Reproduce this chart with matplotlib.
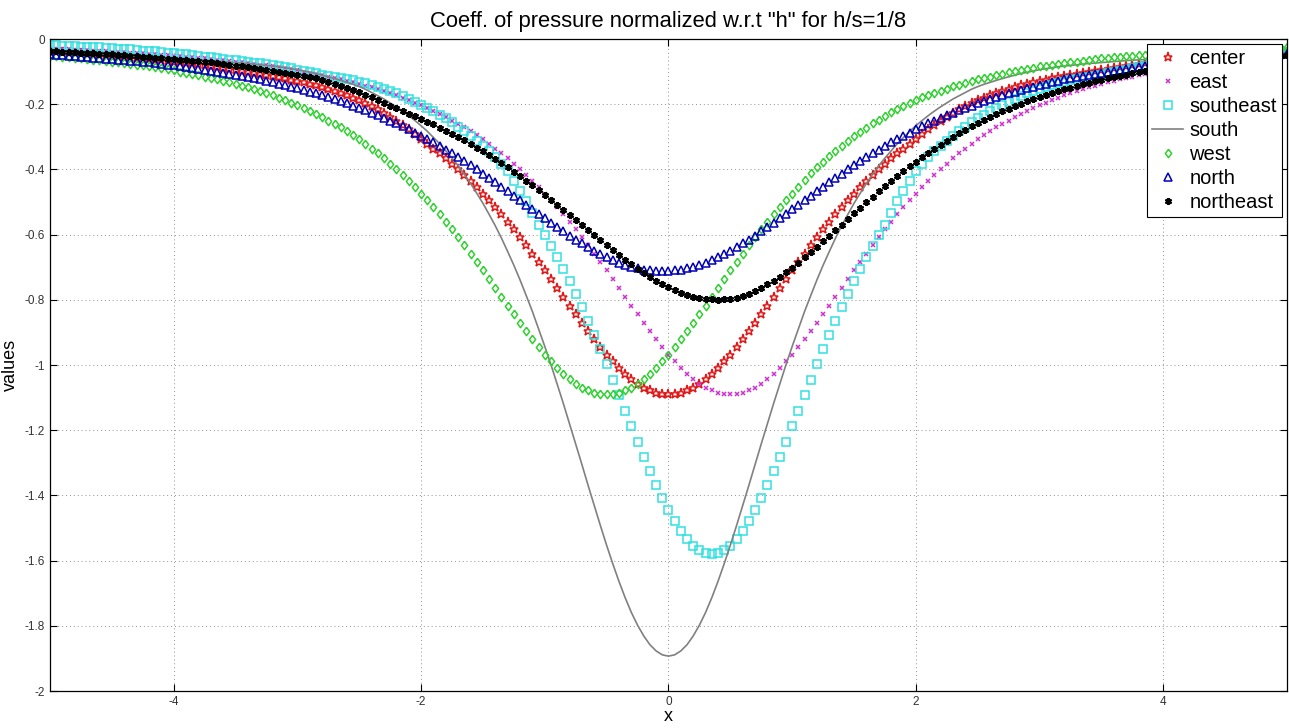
import numpy as np
import matplotlib
matplotlib.use("Agg")
import matplotlib.pyplot as plt

plt.rcParams['font.family'] = ['Liberation Sans', 'DejaVu Sans']
plt.rcParams['axes.unicode_minus'] = False

# x grid of the samples (step 0.05)
x = np.linspace(-5, 5, 201)

center = [
    -0.039, -0.040, -0.041, -0.042, -0.043, -0.044, -0.046, -0.047, -0.048, -0.050,
    -0.051, -0.053, -0.054, -0.056, -0.058, -0.059, -0.061, -0.063, -0.065, -0.067,
    -0.069, -0.071, -0.074, -0.075, -0.078, -0.080, -0.083, -0.086, -0.088, -0.091,
    -0.094, -0.097, -0.100, -0.104, -0.107, -0.111, -0.114, -0.117, -0.121, -0.125,
    -0.129, -0.133, -0.137, -0.142, -0.147, -0.153, -0.159, -0.166, -0.173, -0.180,
    -0.188, -0.196, -0.205, -0.215, -0.226, -0.238, -0.250, -0.263, -0.277, -0.292,
    -0.308, -0.322, -0.336, -0.351, -0.366, -0.382, -0.399, -0.416, -0.435, -0.454,
    -0.474, -0.494, -0.515, -0.538, -0.560, -0.584, -0.608, -0.633, -0.658, -0.684,
    -0.710, -0.737, -0.764, -0.791, -0.818, -0.844, -0.870, -0.896, -0.921, -0.945,
    -0.968, -0.989, -1.009, -1.027, -1.043, -1.057, -1.069, -1.078, -1.085, -1.089,
    -1.090,
    -1.089, -1.085, -1.078, -1.069, -1.057, -1.043, -1.027, -1.009, -0.989, -0.968,
    -0.945, -0.921, -0.896, -0.870, -0.844, -0.818, -0.791, -0.764, -0.737, -0.710,
    -0.684, -0.658, -0.633, -0.608, -0.584, -0.560, -0.538, -0.515, -0.494, -0.474,
    -0.454, -0.435, -0.416, -0.399, -0.382, -0.366, -0.351, -0.336, -0.322, -0.308,
    -0.292, -0.277, -0.263, -0.250, -0.238, -0.226, -0.215, -0.205, -0.196, -0.188,
    -0.180, -0.173, -0.166, -0.159, -0.153, -0.147, -0.142, -0.137, -0.133, -0.129,
    -0.125, -0.121, -0.117, -0.114, -0.111, -0.107, -0.104, -0.100, -0.097, -0.094,
    -0.091, -0.088, -0.086, -0.083, -0.080, -0.078, -0.075, -0.074, -0.071, -0.069,
    -0.067, -0.065, -0.063, -0.061, -0.059, -0.058, -0.056, -0.054, -0.053, -0.051,
    -0.050, -0.048, -0.047, -0.046, -0.044, -0.043, -0.042, -0.041, -0.040, -0.039,
]

east = [
    -0.030, -0.031, -0.031, -0.032, -0.033, -0.034, -0.035, -0.036, -0.037, -0.038,
    -0.039, -0.040, -0.041, -0.042, -0.043, -0.044, -0.046, -0.047, -0.048, -0.050,
    -0.051, -0.053, -0.054, -0.056, -0.058, -0.059, -0.061, -0.063, -0.065, -0.067,
    -0.069, -0.071, -0.074, -0.076, -0.079, -0.081, -0.084, -0.087, -0.090, -0.093,
    -0.096, -0.100, -0.103, -0.107, -0.111, -0.115, -0.119, -0.123, -0.128, -0.133,
    -0.138, -0.143, -0.148, -0.154, -0.160, -0.167, -0.173, -0.180, -0.188, -0.195,
    -0.203, -0.212, -0.220, -0.230, -0.239, -0.250, -0.260, -0.271, -0.283, -0.295,
    -0.308, -0.322, -0.336, -0.351, -0.366, -0.382, -0.399, -0.416, -0.435, -0.454,
    -0.474, -0.494, -0.515, -0.538, -0.560, -0.584, -0.608, -0.633, -0.658, -0.684,
    -0.710, -0.737, -0.764, -0.791, -0.818, -0.844, -0.870, -0.896, -0.921, -0.945,
    -0.968, -0.989, -1.009, -1.027, -1.043, -1.057, -1.069, -1.078, -1.085, -1.089,
    -1.090,
    -1.089, -1.085, -1.078, -1.069, -1.057, -1.043, -1.027, -1.009, -0.989, -0.968,
    -0.945, -0.921, -0.896, -0.870, -0.844, -0.818, -0.791, -0.764, -0.737, -0.710,
    -0.684, -0.658, -0.633, -0.608, -0.584, -0.560, -0.538, -0.515, -0.494, -0.474,
    -0.454, -0.435, -0.416, -0.399, -0.382, -0.366, -0.351, -0.336, -0.322, -0.308,
    -0.295, -0.283, -0.271, -0.260, -0.250, -0.239, -0.230, -0.220, -0.212, -0.203,
    -0.195, -0.188, -0.180, -0.173, -0.167, -0.160, -0.154, -0.148, -0.143, -0.138,
    -0.133, -0.128, -0.123, -0.119, -0.115, -0.111, -0.107, -0.103, -0.100, -0.096,
    -0.093, -0.090, -0.087, -0.084, -0.081, -0.079, -0.076, -0.074, -0.071, -0.069,
    -0.067, -0.065, -0.063, -0.061, -0.059, -0.058, -0.056, -0.054, -0.053, -0.051,
]

southeast = [
    -0.019, -0.019, -0.020, -0.021, -0.022, -0.023, -0.024, -0.025, -0.026, -0.027,
    -0.028, -0.030, -0.031, -0.032, -0.033, -0.036, -0.037, -0.038, -0.040, -0.042,
    -0.043, -0.046, -0.047, -0.050, -0.052, -0.054, -0.056,
    -0.059, -0.061, -0.063, -0.065, -0.068, -0.070, -0.073, -0.075, -0.078, -0.081,
    -0.084, -0.087, -0.090, -0.094, -0.098, -0.101,
    -0.105, -0.109, -0.112, -0.115, -0.119, -0.123, -0.127, -0.131, -0.135, -0.140,
    -0.146, -0.153, -0.160, -0.167, -0.175, -0.183, -0.192, -0.201, -0.211, -0.221,
    -0.232, -0.243, -0.256, -0.269, -0.282, -0.296, -0.312, -0.328, -0.345, -0.363,
    -0.383, -0.406, -0.434, -0.465, -0.498, -0.533,
    -0.571, -0.601, -0.634, -0.668, -0.704, -0.742, -0.781, -0.821, -0.864, -0.907,
    -0.952, -0.998, -1.045, -1.092, -1.140, -1.188, -1.235, -1.281, -1.326, -1.369,
    -1.409, -1.446, -1.480, -1.509, -1.534, -1.554, -1.568, -1.577,
    -1.580,
    -1.577, -1.568, -1.554, -1.534, -1.509, -1.480, -1.446, -1.409, -1.369, -1.326,
    -1.281, -1.235, -1.188, -1.140, -1.092, -1.045, -0.998, -0.952, -0.907, -0.864,
    -0.821, -0.781, -0.742, -0.704, -0.668, -0.634, -0.601, -0.571,
    -0.533, -0.498, -0.465, -0.434, -0.406, -0.383, -0.363, -0.345, -0.328, -0.312,
    -0.296, -0.282, -0.269, -0.256, -0.243, -0.232, -0.221, -0.211, -0.201, -0.192,
    -0.183, -0.175, -0.167, -0.160, -0.153, -0.146, -0.140, -0.135, -0.131, -0.127,
    -0.123, -0.119, -0.115, -0.112, -0.109, -0.105,
    -0.101, -0.098, -0.094, -0.090, -0.087, -0.084, -0.081, -0.078, -0.075, -0.073,
    -0.070, -0.068, -0.065, -0.063, -0.061, -0.059, -0.057, -0.055, -0.054, -0.052,
    -0.050, -0.049, -0.047, -0.046, -0.044, -0.043, -0.042, -0.041, -0.039,
]

south = [
    -0.042, -0.043, -0.043, -0.044, -0.045, -0.045, -0.046, -0.047, -0.048, -0.049,
    -0.050, -0.051, -0.052, -0.053, -0.054, -0.055, -0.056, -0.057, -0.058, -0.059,
    -0.060, -0.061, -0.062, -0.063, -0.064, -0.065, -0.066, -0.068, -0.069, -0.071,
    -0.072, -0.074, -0.075, -0.077, -0.079, -0.081, -0.083, -0.085, -0.088, -0.091,
    -0.094, -0.098, -0.102, -0.106, -0.111, -0.116, -0.121, -0.127, -0.133, -0.139,
    -0.146, -0.154, -0.164, -0.174, -0.184, -0.196, -0.208, -0.221, -0.235, -0.250,
    -0.266, -0.283, -0.302, -0.321, -0.343, -0.365, -0.389, -0.415, -0.443, -0.473,
    -0.504, -0.538, -0.573, -0.611, -0.652, -0.694, -0.739, -0.787, -0.836, -0.889,
    -0.943, -0.999, -1.058, -1.118, -1.180, -1.242, -1.305, -1.369, -1.431, -1.493,
    -1.553, -1.610, -1.664, -1.714, -1.759, -1.798, -1.831, -1.858, -1.877, -1.889,
    -1.893,
    -1.889, -1.877, -1.858, -1.831, -1.798, -1.759, -1.714, -1.664, -1.610, -1.553,
    -1.493, -1.431, -1.369, -1.305, -1.242, -1.180, -1.118, -1.058, -0.999, -0.943,
    -0.889, -0.836, -0.787, -0.739, -0.694, -0.652, -0.611, -0.573, -0.538, -0.504,
    -0.473, -0.443, -0.415, -0.389, -0.365, -0.343, -0.321, -0.302, -0.283, -0.266,
    -0.250, -0.235, -0.221, -0.208, -0.196, -0.184, -0.174, -0.164, -0.154, -0.146,
    -0.139, -0.133, -0.127, -0.121, -0.116, -0.111, -0.106, -0.102, -0.098, -0.094,
    -0.091, -0.088, -0.085, -0.083, -0.081, -0.079, -0.077, -0.075, -0.074, -0.072,
    -0.071, -0.069, -0.068, -0.066, -0.065, -0.064, -0.063, -0.062, -0.061, -0.060,
    -0.059, -0.058, -0.057, -0.056, -0.055, -0.054, -0.053, -0.052, -0.051, -0.050,
    -0.049, -0.048, -0.047, -0.046, -0.045, -0.045, -0.044, -0.043, -0.043, -0.042,
]

west = [
    -0.051, -0.053, -0.054, -0.056, -0.058, -0.059, -0.061, -0.063, -0.065, -0.067,
    -0.069, -0.071, -0.074, -0.076, -0.079, -0.081, -0.084, -0.087, -0.090, -0.093,
    -0.096, -0.100, -0.103, -0.107, -0.111, -0.115, -0.119, -0.123, -0.128, -0.133,
    -0.138, -0.143, -0.148, -0.154, -0.160, -0.167, -0.173, -0.180, -0.188, -0.195,
    -0.203, -0.212, -0.220, -0.230, -0.239, -0.250, -0.260, -0.271, -0.283, -0.295,
    -0.308, -0.322, -0.336, -0.351, -0.366, -0.382, -0.399, -0.416, -0.435, -0.454,
    -0.474, -0.494, -0.515, -0.538, -0.560, -0.584, -0.608, -0.633, -0.658, -0.684,
    -0.710, -0.737, -0.764, -0.791, -0.818, -0.844, -0.870, -0.896, -0.921, -0.945,
    -0.968, -0.989, -1.009, -1.027, -1.043, -1.057, -1.069, -1.078, -1.085, -1.089,
    -1.090,
    -1.089, -1.085, -1.078, -1.069, -1.057, -1.043, -1.027, -1.009, -0.989, -0.968,
    -0.945, -0.921, -0.896, -0.870, -0.844, -0.818, -0.791, -0.764, -0.737, -0.710,
    -0.684, -0.658, -0.633, -0.608, -0.584, -0.560, -0.538, -0.515, -0.494, -0.474,
    -0.453, -0.432, -0.412, -0.394, -0.376, -0.359, -0.344, -0.328, -0.313, -0.299,
    -0.285, -0.272, -0.259, -0.247, -0.236, -0.225, -0.215, -0.205, -0.196, -0.187,
    -0.179, -0.172, -0.165, -0.158, -0.152, -0.145, -0.140, -0.134, -0.129, -0.124,
    -0.119, -0.115, -0.110, -0.106, -0.102, -0.099, -0.095, -0.091, -0.088, -0.084,
    -0.082, -0.079, -0.076, -0.073, -0.070, -0.069, -0.066, -0.064, -0.061, -0.059,
    -0.058, -0.056, -0.054, -0.052, -0.051, -0.050, -0.048, -0.046, -0.046, -0.044,
    -0.043, -0.041, -0.040, -0.040, -0.038, -0.037, -0.036, -0.035, -0.034, -0.034,
    -0.033, -0.032, -0.031, -0.030, -0.029, -0.028, -0.028, -0.027, -0.027, -0.026,
]

north = [
    -0.047, -0.048, -0.050, -0.051, -0.052, -0.054, -0.055, -0.057, -0.058,
    -0.060, -0.061, -0.063, -0.065, -0.067, -0.068, -0.070, -0.072, -0.074, -0.077,
    -0.079, -0.081, -0.084, -0.086, -0.089, -0.091, -0.094, -0.097, -0.100, -0.103,
    -0.106, -0.110, -0.113, -0.117, -0.120, -0.124, -0.128, -0.133, -0.137, -0.141,
    -0.146, -0.151, -0.156, -0.161, -0.166, -0.172, -0.178, -0.184, -0.190, -0.197,
    -0.204, -0.211, -0.218, -0.226, -0.233, -0.242, -0.250, -0.259, -0.268, -0.277,
    -0.287, -0.297, -0.307, -0.317, -0.328, -0.339, -0.351, -0.363, -0.375, -0.387,
    -0.400, -0.413, -0.426, -0.439, -0.453, -0.466, -0.480, -0.494, -0.508, -0.522,
    -0.536, -0.550, -0.563, -0.577, -0.590, -0.603, -0.615, -0.627, -0.639, -0.650,
    -0.660, -0.669, -0.678, -0.686, -0.692, -0.698, -0.703, -0.707, -0.710, -0.711,
    -0.712,
    -0.711, -0.710, -0.707, -0.703, -0.698, -0.692, -0.686, -0.678, -0.669, -0.660,
    -0.650, -0.639, -0.627, -0.615, -0.603, -0.590, -0.577, -0.563, -0.550, -0.536,
    -0.522, -0.508, -0.494, -0.480, -0.466, -0.453, -0.439, -0.426, -0.413, -0.400,
    -0.387, -0.375, -0.363, -0.351, -0.339, -0.328, -0.317, -0.307, -0.297, -0.287,
    -0.277, -0.268, -0.259, -0.250, -0.242, -0.233, -0.226, -0.218, -0.211, -0.204,
    -0.197, -0.190, -0.184, -0.178, -0.172, -0.166, -0.161, -0.156, -0.151, -0.146,
    -0.141, -0.137, -0.133, -0.128, -0.124, -0.120, -0.117, -0.113, -0.110, -0.106,
    -0.103, -0.100, -0.097, -0.094, -0.091, -0.089, -0.086, -0.084, -0.081, -0.079,
    -0.077, -0.074, -0.072, -0.070, -0.068, -0.067, -0.065, -0.063, -0.061, -0.060,
    -0.058, -0.057, -0.055, -0.054, -0.052, -0.051, -0.050, -0.048, -0.047, -0.046,
    -0.045,
]

northeast = [
    -0.037, -0.038, -0.039, -0.040, -0.041, -0.042, -0.043, -0.044,
    -0.045, -0.046, -0.047, -0.049, -0.050, -0.051, -0.053, -0.054, -0.056, -0.057,
    -0.059, -0.060, -0.062, -0.064, -0.065, -0.066, -0.068, -0.070, -0.072, -0.075,
    -0.077, -0.079, -0.082, -0.084, -0.087, -0.089, -0.092, -0.095, -0.098, -0.101,
    -0.104, -0.108, -0.110, -0.114, -0.117, -0.121, -0.125, -0.131, -0.137, -0.143,
    -0.150, -0.157, -0.164, -0.171, -0.178, -0.187, -0.196, -0.204, -0.213, -0.221,
    -0.229, -0.237, -0.245, -0.254, -0.262, -0.272, -0.281, -0.291, -0.301, -0.311,
    -0.322, -0.334, -0.345, -0.356, -0.369, -0.381, -0.394, -0.408, -0.421, -0.435,
    -0.449, -0.464, -0.479, -0.493, -0.509, -0.524, -0.539, -0.555, -0.571, -0.587,
    -0.602, -0.618, -0.633, -0.648, -0.663, -0.678, -0.691, -0.704, -0.718, -0.730,
    -0.742, -0.752, -0.762, -0.771, -0.778, -0.784, -0.790, -0.794, -0.798, -0.799,
    -0.800,
    -0.799, -0.797, -0.793, -0.788, -0.781, -0.773, -0.764, -0.753, -0.742, -0.729,
    -0.716, -0.701, -0.686, -0.670, -0.654, -0.638, -0.621, -0.604, -0.586, -0.569,
    -0.552, -0.534, -0.517, -0.500, -0.484, -0.467, -0.451, -0.435, -0.420, -0.405,
    -0.391, -0.376, -0.363, -0.349, -0.337, -0.324, -0.312, -0.301, -0.289, -0.279,
    -0.268, -0.258, -0.249, -0.239, -0.231, -0.222, -0.214, -0.206, -0.199, -0.191,
    -0.185, -0.178, -0.172, -0.165, -0.160, -0.154, -0.149, -0.143, -0.139, -0.134,
    -0.129, -0.125, -0.121, -0.117, -0.113, -0.109, -0.105, -0.102, -0.099, -0.096,
    -0.093, -0.090, -0.087, -0.084, -0.081, -0.079, -0.076, -0.074, -0.072, -0.070,
    -0.068, -0.066, -0.064, -0.062, -0.060, -0.059, -0.057, -0.055, -0.054, -0.052,
    -0.051, -0.049,
]

xticks = [-4, -2, 0, 2, 4]
yticks = [0, -0.2, -0.4, -0.6, -0.8, -1, -1.2, -1.4, -1.6, -1.8, -2]
ytick_labels = ['0', '-0.2', '-0.4', '-0.6', '-0.8', '-1', '-1.2', '-1.4', '-1.6', '-1.8', '-2']

fig = plt.figure(figsize=(12.89, 7.28), dpi=100)
ax = fig.add_axes([0.0388, 0.0508, 0.9596, 0.8956])

# MATLAB-like diamond (a bit wider than matplotlib's thin diamond)
diamond = [(0, 1), (0.75, 0), (0, -1), (-0.75, 0), (0, 1)]

mk = dict(linestyle='none', markerfacecolor='none', markeredgewidth=1.1)
ax.plot(x, center, marker='*', markersize=6.5, color='#e01818', label='center', **mk)
ax.plot(x, east, marker='x', markersize=3.5, color='#d030d0', label='east', **mk)
ax.plot(x, southeast, marker='s', markersize=6, color='#30e0e0', label='southeast', **mk)
ax.plot(x, south, color='#808080', linewidth=1.2, label='south')
ax.plot(x, west, marker=diamond, markersize=6, color='#30d030', label='west', **mk)
ax.plot(x, north, marker='^', markersize=5.5, color='#0000b4', label='north', **mk)
ax.plot(x, northeast, marker=(6, 2, 0), markersize=5, color='black', linestyle='none',
        markeredgewidth=1.6, label='northeast')

ax.set_xlim(-5, 5)
ax.set_ylim(-2, 0)
ax.set_xticks(xticks)
ax.set_xticklabels([str(t) for t in xticks])
ax.set_yticks(yticks)
ax.set_yticklabels(ytick_labels)
ax.tick_params(direction='in', length=5, top=True, right=True, labelsize=8.5,
               labelcolor='#333333')
ax.grid(True, color='#909090', linestyle=(0, (1, 3)), linewidth=0.7)
for s in ax.spines.values():
    s.set_linewidth(0.9)

ax.set_title('Coeff. of pressure normalized w.r.t "h" for h/s=1/8', fontsize=15.8, pad=9)
ax.set_xlabel('x', fontsize=13, labelpad=0)
ax.set_ylabel('values', fontsize=13, labelpad=4)

leg = ax.legend(loc='upper right', fontsize=14.5, fancybox=False, framealpha=1,
                edgecolor='black', borderaxespad=0.25, borderpad=0.25,
                handlelength=1.55, handletextpad=0.3, labelspacing=0.25)
leg.get_frame().set_linewidth(0.8)

fig.savefig('out.png', dpi=100)
